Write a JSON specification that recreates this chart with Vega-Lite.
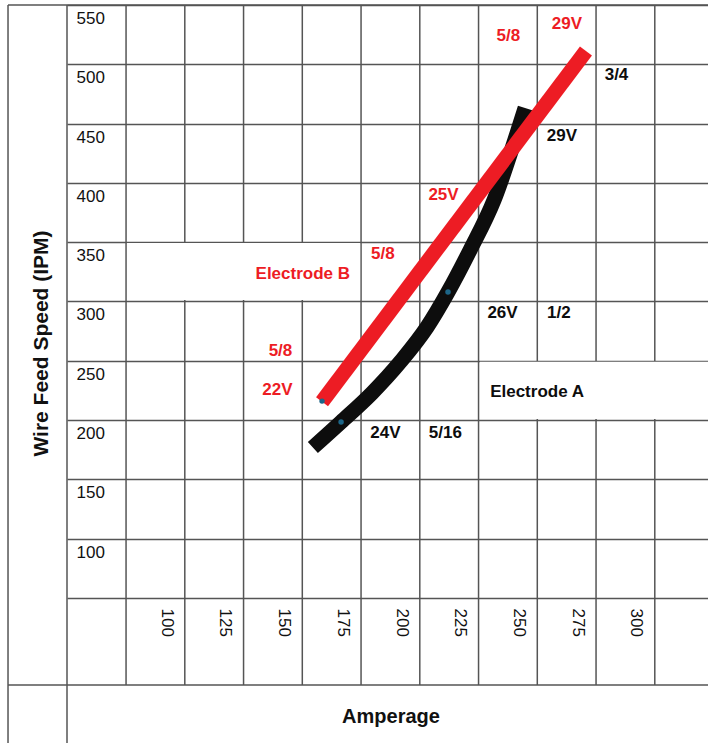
{
  "$schema": "https://vega.github.io/schema/vega-lite/v6.json",
  "width": 641,
  "height": 680,
  "autosize": {"type": "none"},
  "padding": {"left": 67, "top": 5, "right": 0, "bottom": 58},
  "background": "white",
  "config": {"view": {"stroke": null}, "font": "Liberation Sans"},
  "datasets": {
    "columns": [
      {"amp": 83}, {"amp": 108}, {"amp": 133}, {"amp": 158}, {"amp": 183},
      {"amp": 208}, {"amp": 233}, {"amp": 258}, {"amp": 283}, {"amp": 308}
    ],
    "boxes": [
      {"box": "Electrode B", "amp": 83.4, "amp2": 182.6, "ipm": 301.2, "ipm2": 349.3},
      {"box": "Electrode A", "amp": 233.6, "amp2": 330.64, "ipm": 200.9, "ipm2": 249.2}
    ],
    "curves": [
      {"electrode": "A", "amp": 162.5, "ipm": 176.9},
      {"electrode": "A", "amp": 174.5, "ipm": 198.4},
      {"electrode": "A", "amp": 187.7, "ipm": 222.9},
      {"electrode": "A", "amp": 200.0, "ipm": 249.8},
      {"electrode": "A", "amp": 211.1, "ipm": 278.5},
      {"electrode": "A", "amp": 220.0, "ipm": 308.0},
      {"electrode": "A", "amp": 229.4, "ipm": 343.4},
      {"electrode": "A", "amp": 239.6, "ipm": 385.6},
      {"electrode": "A", "amp": 249.4, "ipm": 442.1},
      {"electrode": "A", "amp": 252.8, "ipm": 463.2},
      {"electrode": "B", "amp": 166.4, "ipm": 215.5},
      {"electrode": "B", "amp": 278.7, "ipm": 511.2}
    ],
    "dots": [
      {"electrode": "B", "amp": 166.4, "ipm": 216.0},
      {"electrode": "A", "amp": 174.5, "ipm": 198.4},
      {"electrode": "A", "amp": 220.0, "ipm": 308.0}
    ],
    "notes": [
      {"electrode": "B", "label": "29V", "amp": 270.6, "ipm": 534.0},
      {"electrode": "B", "label": "5/8", "amp": 245.7, "ipm": 523.9},
      {"electrode": "B", "label": "25V", "amp": 218.1, "ipm": 389.8},
      {"electrode": "B", "label": "5/8", "amp": 192.3, "ipm": 340.1},
      {"electrode": "B", "label": "Electrode B", "amp": 158.2, "ipm": 323.5},
      {"electrode": "B", "label": "5/8", "amp": 148.7, "ipm": 258.3},
      {"electrode": "B", "label": "22V", "amp": 147.4, "ipm": 225.4},
      {"electrode": "A", "label": "3/4", "amp": 291.7, "ipm": 490.6},
      {"electrode": "A", "label": "29V", "amp": 268.5, "ipm": 439.5},
      {"electrode": "A", "label": "26V", "amp": 243.2, "ipm": 289.9},
      {"electrode": "A", "label": "1/2", "amp": 267.2, "ipm": 289.9},
      {"electrode": "A", "label": "Electrode A", "amp": 257.9, "ipm": 223.7},
      {"electrode": "A", "label": "24V", "amp": 193.4, "ipm": 189.5},
      {"electrode": "A", "label": "5/16", "amp": 218.9, "ipm": 189.5}
    ]
  },
  "layer": [
    {
      "data": {"name": "columns"},
      "mark": {"type": "rule", "color": "#555555", "strokeWidth": 1.5},
      "encoding": {
        "x": {
          "field": "amp", "type": "quantitative",
          "scale": {"domain": [57.87, 330.64], "nice": false, "zero": false},
          "axis": {
            "title": "Amperage",
            "values": [100, 125, 150, 175, 200, 225, 250, 275, 300],
            "grid": false, "domain": false, "ticks": false, "tickSize": 0,
            "labelAngle": 90, "labelAlign": "left", "labelBaseline": "middle",
            "labelPadding": -77, "labelFontSize": 17, "labelColor": "#111111",
            "labelFont": "Liberation Sans", "labelFlush": false, "labelOverlap": false, "labelBound": false,
            "titleFont": "Liberation Sans", "titleFontSize": 20, "titleFontWeight": "bold", "titleColor": "#111111",
            "titleX": 323.5, "titleY": 37, "titleBaseline": "alphabetic", "titleAlign": "center", "titleAnchor": null
          }
        }
      }
    },
    {
      "data": {"values": [{"edge": "outer left"}]},
      "mark": {"type": "rule", "color": "#555555", "strokeWidth": 1.5},
      "encoding": {
        "x": {"datum": 32.77, "type": "quantitative"},
        "y": {"datum": 550, "type": "quantitative"},
        "y2": {"datum": -72.26}
      }
    },
    {
      "data": {"values": [{"edge": "inner left"}]},
      "mark": {"type": "rule", "color": "#555555", "strokeWidth": 1.5},
      "encoding": {
        "x": {"datum": 57.87, "type": "quantitative"},
        "y": {"datum": 550, "type": "quantitative"},
        "y2": {"datum": -72.26}
      }
    },
    {
      "data": {"values": [{"edge": "top"}]},
      "mark": {"type": "rule", "color": "#555555", "strokeWidth": 1.5},
      "encoding": {
        "x": {"datum": 32.77, "type": "quantitative"},
        "x2": {"datum": 330.64},
        "y": {"datum": 550, "type": "quantitative"}
      }
    },
    {
      "data": {"values": [{"edge": "bottom"}]},
      "mark": {"type": "rule", "color": "#555555", "strokeWidth": 1.5},
      "encoding": {
        "x": {"datum": 32.77, "type": "quantitative"},
        "x2": {"datum": 330.64},
        "y": {"datum": -23.36, "type": "quantitative"}
      }
    },
    {
      "data": {"name": "boxes"},
      "mark": {"type": "rect", "fill": "white", "stroke": null},
      "encoding": {
        "x": {"field": "amp", "type": "quantitative"},
        "x2": {"field": "amp2"},
        "y": {"field": "ipm", "type": "quantitative"},
        "y2": {"field": "ipm2"}
      }
    },
    {
      "data": {"name": "curves"},
      "mark": {"type": "line", "strokeWidth": 15, "strokeCap": "butt", "interpolate": "monotone"},
      "encoding": {
        "x": {"field": "amp", "type": "quantitative"},
        "y": {
          "field": "ipm", "type": "quantitative",
          "scale": {"domain": [-23.36, 550], "nice": false, "zero": false},
          "axis": {
            "title": "Wire Feed Speed (IPM)",
            "values": [550, 500, 450, 400, 350, 300, 250, 200, 150, 100, 50],
            "labelExpr": "datum.value == 50 ? '' : datum.label",
            "grid": true, "gridColor": "#555555", "gridWidth": 1.5, "gridOpacity": 1,
            "domain": false, "ticks": false, "tickSize": 0,
            "labelAlign": "left", "labelBaseline": "top", "labelPadding": -9, "labelOffset": 5.5,
            "labelFontSize": 17, "labelColor": "#111111", "labelFont": "Liberation Sans",
            "labelFlush": false, "labelOverlap": false, "labelBound": false,
            "titleFont": "Liberation Sans", "titleFontSize": 21, "titleFontWeight": "bold", "titleColor": "#111111",
            "titleX": -20, "titleY": 338, "titleAngle": -90, "titleBaseline": "alphabetic", "titleAlign": "center", "titleAnchor": null
          }
        },
        "color": {
          "field": "electrode", "type": "nominal",
          "scale": {"domain": ["A", "B"], "range": ["#0d0d0d", "#ed1c24"]},
          "legend": null
        }
      }
    },
    {
      "data": {"name": "dots"},
      "mark": {"type": "point", "filled": true, "size": 30, "color": "#1d6688", "opacity": 1},
      "encoding": {
        "x": {"field": "amp", "type": "quantitative"},
        "y": {"field": "ipm", "type": "quantitative"}
      }
    },
    {
      "data": {"name": "notes"},
      "mark": {"type": "text", "fontSize": 17, "fontWeight": "bold", "font": "Liberation Sans", "align": "center", "baseline": "middle"},
      "encoding": {
        "x": {"field": "amp", "type": "quantitative"},
        "y": {"field": "ipm", "type": "quantitative"},
        "text": {"field": "label"},
        "color": {"field": "electrode", "type": "nominal", "legend": null}
      }
    }
  ]
}
